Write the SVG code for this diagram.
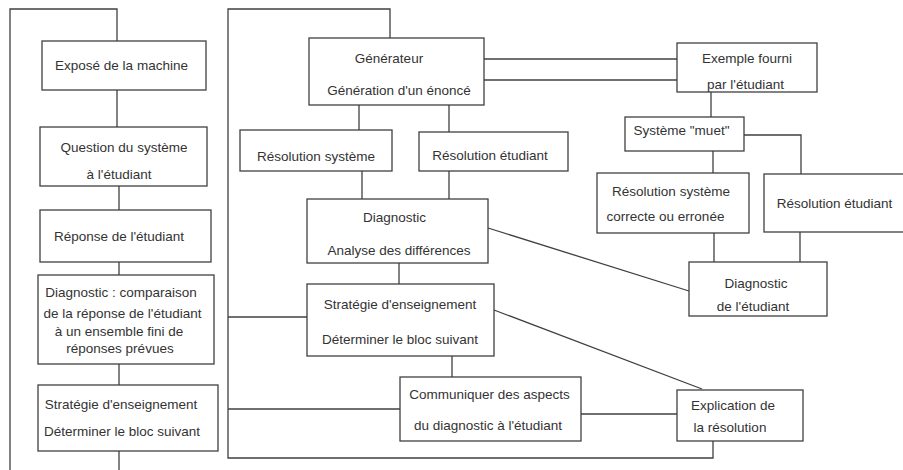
<svg xmlns="http://www.w3.org/2000/svg" width="903" height="470" viewBox="0 0 903 470">
<style>
rect{fill:#fff;stroke:#404040;stroke-width:1.3}
.c{fill:none;stroke:#404040;stroke-width:1.3}
text{font-family:"Liberation Sans",Arial,sans-serif;font-size:13.5px;fill:#333;text-anchor:middle}
</style>
<rect x="0" y="0" width="903" height="470" style="stroke:none"/>
<g id="connectors">
<path class="c" d="M10,470 V9 H117 V41"/>
<path class="c" d="M117,90 V127"/>
<path class="c" d="M119,186 V210"/>
<path class="c" d="M119,262 V275"/>
<path class="c" d="M119,364 V385"/>
<path class="c" d="M119,451 V470"/>
<path class="c" d="M228,317 V9 H390 V38"/>
<path class="c" d="M228,317 H307"/>
<path class="c" d="M228,317 V458 H713 V441"/>
<path class="c" d="M228,409 H400"/>
<path class="c" d="M484,59 H677"/>
<path class="c" d="M484,80 H677"/>
<path class="c" d="M359,105 V130"/>
<path class="c" d="M449,105 V132"/>
<path class="c" d="M362,171 V199"/>
<path class="c" d="M449,171 V199"/>
<path class="c" d="M399,263 V284"/>
<path class="c" d="M452,356 V377"/>
<path class="c" d="M488,228 L689,291"/>
<path class="c" d="M494,310 L702,389"/>
<path class="c" d="M581,414 H677"/>
<path class="c" d="M711,92 V117"/>
<path class="c" d="M744,135 H801 V174"/>
<path class="c" d="M713,151 V173"/>
<path class="c" d="M714,233 V262"/>
<path class="c" d="M800,232 V262"/>
</g>
<g id="expose"><rect x="42" y="41" width="164" height="49"/><text x="121.5" y="70">Exposé de la machine</text></g>
<g id="question"><rect x="40" y="127" width="167" height="59"/><text x="124" y="152">Question du système</text><text x="119" y="179">à l'étudiant</text></g>
<g id="reponse"><rect x="40" y="210" width="171" height="52"/><text x="119" y="241">Réponse de l'étudiant</text></g>
<g id="diag-left"><rect x="38" y="275" width="176" height="89"/><text x="121" y="297">Diagnostic : comparaison</text><text x="122.5" y="318">de la réponse de l'étudiant</text><text x="119" y="336">à un ensemble fini de</text><text x="120" y="353">réponses prévues</text></g>
<g id="strat-left"><rect x="38" y="385" width="180" height="66"/><text x="121" y="409">Stratégie d'enseignement</text><text x="122" y="436">Déterminer le bloc suivant</text></g>
<g id="generateur"><rect x="309" y="38" width="175" height="67"/><text x="389" y="63">Générateur</text><text x="399" y="95">Génération d'un énoncé</text></g>
<g id="res-sys"><rect x="240" y="130" width="152" height="41"/><text x="316" y="161">Résolution système</text></g>
<g id="res-etu"><rect x="419" y="132" width="149" height="39"/><text x="490" y="160">Résolution étudiant</text></g>
<g id="diag-mid"><rect x="307" y="199" width="181" height="64"/><text x="394.5" y="222">Diagnostic</text><text x="399" y="255">Analyse des différences</text></g>
<g id="strat-mid"><rect x="307" y="284" width="187" height="72"/><text x="400" y="309">Stratégie d'enseignement</text><text x="400" y="344">Déterminer le bloc suivant</text></g>
<g id="communiquer"><rect x="400" y="377" width="181" height="64"/><text x="489.5" y="399">Communiquer des aspects</text><text x="488" y="430">du diagnostic à l'étudiant</text></g>
<g id="explication"><rect x="677" y="390" width="126" height="51"/><text x="733" y="410">Explication de</text><text x="730" y="432">la résolution</text></g>
<g id="exemple"><rect x="677" y="43" width="140" height="49"/><text x="747" y="63">Exemple fourni</text><text x="745.5" y="89">par l'étudiant</text></g>
<g id="muet"><rect x="625" y="117" width="119" height="34"/><text x="681.5" y="135">Système "muet"</text></g>
<g id="res-sys-right"><rect x="597" y="173" width="152" height="60"/><text x="671" y="196">Résolution système</text><text x="665.5" y="221">correcte ou erronée</text></g>
<g id="res-etu-right"><rect x="764" y="174" width="145" height="58"/><text x="834.5" y="208">Résolution étudiant</text></g>
<g id="diag-right"><rect x="689" y="262" width="138" height="54"/><text x="756" y="288">Diagnostic</text><text x="753" y="311">de l'étudiant</text></g>
</svg>
